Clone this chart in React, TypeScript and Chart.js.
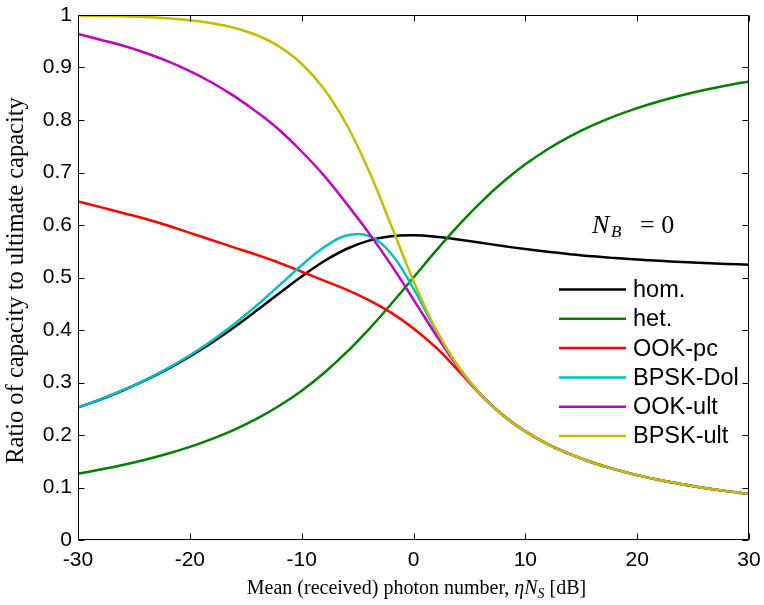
import React, { useEffect, useRef } from "react";
import { Chart, registerables } from "chart.js";

Chart.register(...registerables);

// Mean received photon number eta*N_S in dB
const xDb = [-30, -28, -26, -24, -22, -20, -18, -16, -14, -12, -10, -8, -6, -4, -2, 0, 2, 4, 6, 8, 10, 12, 14, 16, 18, 20, 22, 24, 26, 28, 30];

const hom = [0.2524, 0.2677, 0.2848, 0.304, 0.3255, 0.3496, 0.3764, 0.4058, 0.4374, 0.4701, 0.5021, 0.531, 0.5543, 0.5703, 0.5786, 0.5805, 0.5778, 0.5725, 0.5663, 0.5599, 0.5541, 0.5489, 0.5444, 0.5404, 0.5371, 0.5342, 0.5317, 0.5295, 0.5276, 0.5259, 0.5244];
const het = [0.1264, 0.1342, 0.1429, 0.1529, 0.1643, 0.1774, 0.1926, 0.2103, 0.2311, 0.2556, 0.2844, 0.3182, 0.3572, 0.4012, 0.4495, 0.5, 0.5506, 0.5988, 0.6428, 0.6818, 0.7156, 0.7444, 0.7689, 0.7897, 0.8074, 0.8226, 0.8357, 0.8471, 0.8571, 0.8658, 0.8736];
const ookPc = [0.645, 0.634, 0.623, 0.612, 0.599, 0.585, 0.571, 0.557, 0.543, 0.528, 0.511, 0.494, 0.477, 0.457, 0.433, 0.403, 0.367, 0.323, 0.277, 0.2375, 0.2069, 0.1827, 0.1634, 0.1476, 0.1345, 0.1236, 0.1142, 0.1062, 0.0992, 0.0931, 0.0877];
const bpskDol = [0.2526, 0.268, 0.2853, 0.3047, 0.3268, 0.3518, 0.3801, 0.4119, 0.4471, 0.485, 0.5234, 0.5576, 0.5799, 0.5792, 0.5452, 0.4788, 0.3996, 0.3303, 0.2775, 0.2376, 0.2069, 0.1827, 0.1634, 0.1476, 0.1345, 0.1236, 0.1142, 0.1062, 0.0992, 0.0931, 0.0877];
const ookUlt = [0.964, 0.953, 0.942, 0.928, 0.912, 0.893, 0.871, 0.845, 0.815, 0.781, 0.74, 0.694, 0.641, 0.585, 0.524, 0.458, 0.391, 0.329, 0.2774, 0.2376, 0.2069, 0.1827, 0.1634, 0.1476, 0.1345, 0.1236, 0.1142, 0.1062, 0.0992, 0.0931, 0.0877];
const bpskUlt = [0.999, 0.9985, 0.9975, 0.9961, 0.9937, 0.9901, 0.9843, 0.9753, 0.9614, 0.9398, 0.9072, 0.8592, 0.7919, 0.7036, 0.5995, 0.4934, 0.4013, 0.3304, 0.2775, 0.2376, 0.2069, 0.1827, 0.1634, 0.1476, 0.1345, 0.1236, 0.1142, 0.1062, 0.0992, 0.0931, 0.0877];

const seriesLabels = ["hom.", "het.", "OOK-pc", "BPSK-Dol", "OOK-ult", "BPSK-ult"];

const xTicks = [-30, -20, -10, 0, 10, 20, 30];
const xTickLabels = ["-30", "-20", "-10", "0", "10", "20", "30"];
const yTicks = [0, 0.1, 0.2, 0.3, 0.4, 0.5, 0.6, 0.7, 0.8, 0.9, 1];
const yTickLabels = ["0", "0.1", "0.2", "0.3", "0.4", "0.5", "0.6", "0.7", "0.8", "0.9", "1"];

const yTitle = "Ratio of capacity to ultimate capacity";
const xTitleMain = "Mean (received) photon number, ";

const COLORS = ["#000000", "#008000", "#ff0000", "#00bfbf", "#bf00bf", "#bfbf00"];
const SERIF = '"Liberation Serif", "Times New Roman", serif';
const SANS = '"Liberation Sans", Arial, Helvetica, sans-serif';

export default function App() {
  const ref = useRef<HTMLCanvasElement | null>(null);

  useEffect(() => {
    const canvas = ref.current;
    if (!canvas) return;
    const series = [hom, het, ookPc, bpskDol, ookUlt, bpskUlt];

    const datasets = series.map((ys, i) => ({
      label: seriesLabels[i],
      data: xDb.map((x, j) => ({ x, y: ys[j] })),
      borderColor: COLORS[i],
      backgroundColor: COLORS[i],
      borderWidth: 2.5,
      pointRadius: 0,
      tension: 0.4,
      fill: false,
      order: series.length - i,
    }));

    const zeroPad = (s: any) => {
      s.paddingLeft = 0;
      s.paddingRight = 0;
      s.paddingTop = 0;
      s.paddingBottom = 0;
    };

    const decor = {
      id: "decor",
      afterDatasetsDraw(chart: any) {
        const { ctx, chartArea: a, scales } = chart;
        const xs = scales.x;
        const ys = scales.y;
        ctx.save();
        ctx.strokeStyle = "#000";
        ctx.lineWidth = 1;
        const L = Math.round(a.left) + 0.5;
        const R = Math.round(a.right) - 0.5;
        const T = Math.round(a.top) + 0.5;
        const B = Math.round(a.bottom) - 0.5;
        ctx.beginPath();
        ctx.rect(L, T, R - L, B - T);
        ctx.stroke();
        const tl = 6;
        ctx.beginPath();
        xTicks.forEach((v) => {
          const px = Math.round(xs.getPixelForValue(v)) + 0.5;
          ctx.moveTo(px, B);
          ctx.lineTo(px, B - tl);
          ctx.moveTo(px, T);
          ctx.lineTo(px, T + tl);
        });
        yTicks.forEach((v) => {
          const py = Math.round(ys.getPixelForValue(v)) + 0.5;
          ctx.moveTo(L, py);
          ctx.lineTo(L + tl, py);
          ctx.moveTo(R, py);
          ctx.lineTo(R - tl, py);
        });
        ctx.stroke();
        ctx.restore();
      },
      afterDraw(chart: any) {
        const { ctx, chartArea: a } = chart;
        ctx.save();
        ctx.fillStyle = "#000";

        // Legend (inside the axes)
        const lx0 = 559;
        const lx1 = 626;
        const rowY0 = 289.5;
        const rowDy = 29.3;
        ctx.font = `23.5px ${SANS}`;
        ctx.textBaseline = "middle";
        ctx.textAlign = "left";
        chart.data.datasets.forEach((d: any, i: number) => {
          const y = rowY0 + i * rowDy;
          ctx.strokeStyle = d.borderColor;
          ctx.lineWidth = 2.5;
          ctx.beginPath();
          ctx.moveTo(lx0, y);
          ctx.lineTo(lx1, y);
          ctx.stroke();
          ctx.fillText(d.label, 633, y + 1);
        });

        // N_B = 0 annotation
        ctx.textBaseline = "alphabetic";
        ctx.font = `italic 26px ${SERIF}`;
        ctx.fillText("N", 592, 232.5);
        ctx.font = `italic 17px ${SERIF}`;
        ctx.fillText("B", 611, 237);
        ctx.font = `26px ${SERIF}`;
        ctx.fillText("= 0", 640, 232.5);

        // x-axis title with math parts
        const size = 20;
        const parts = [
          { t: xTitleMain, f: `${size}px ${SERIF}`, dy: 0 },
          { t: "\u03b7", f: `italic ${size}px ${SERIF}`, dy: 0 },
          { t: "N", f: `italic ${size}px ${SERIF}`, dy: 0 },
          { t: "S", f: `italic ${Math.round(size * 0.72)}px ${SERIF}`, dy: 3.5 },
          { t: " [dB]", f: `${size}px ${SERIF}`, dy: 0 },
        ];
        let total = 0;
        parts.forEach((p) => {
          ctx.font = p.f;
          total += ctx.measureText(p.t).width;
        });
        let x = (a.left + a.right) / 2 - total / 2 + 3;
        const base = 594;
        parts.forEach((p) => {
          ctx.font = p.f;
          ctx.fillText(p.t, x, base + p.dy);
          x += ctx.measureText(p.t).width;
        });

        // y-axis title
        ctx.save();
        ctx.translate(17, (a.top + a.bottom) / 2 + 3);
        ctx.rotate(-Math.PI / 2);
        ctx.font = `24.5px ${SERIF}`;
        ctx.textAlign = "center";
        ctx.textBaseline = "middle";
        ctx.fillText(yTitle, 0, 0);
        ctx.restore();

        ctx.restore();
      },
    };

    const chart = new Chart(canvas, {
      type: "line",
      data: { datasets: datasets as any },
      options: {
        responsive: false,
        animation: false,
        events: [],
        layout: { padding: { top: 15, right: 15, bottom: 0, left: 0 } },
        plugins: {
          legend: { display: false },
          tooltip: { enabled: false },
          title: { display: false },
        },
        scales: {
          x: {
            type: "linear",
            min: -30,
            max: 30,
            grid: { display: false, drawTicks: false },
            border: { display: false },
            afterBuildTicks: (s: any) => {
              s.ticks = xTicks.map((v) => ({ value: v }));
            },
            afterFit: (s: any) => {
              s.height = 65;
              zeroPad(s);
            },
            ticks: {
              autoSkip: false,
              maxRotation: 0,
              padding: 8,
              color: "#000",
              font: { family: SANS, size: 21 },
              callback: (_v: any, i: number) => xTickLabels[i],
            },
          },
          y: {
            type: "linear",
            min: 0,
            max: 1,
            grid: { display: false, drawTicks: false },
            border: { display: false },
            afterBuildTicks: (s: any) => {
              s.ticks = yTicks.map((v) => ({ value: v }));
            },
            afterFit: (s: any) => {
              s.width = 78;
              zeroPad(s);
            },
            ticks: {
              autoSkip: false,
              padding: 6,
              color: "#000",
              font: { family: SANS, size: 21 },
              callback: (_v: any, i: number) => yTickLabels[i],
            },
          },
        },
      },
      plugins: [decor],
    });

    return () => chart.destroy();
  }, []);

  return (
    <div style={{ position: "absolute", left: 0, top: 0, width: 764, height: 605, background: "#fff" }}>
      <canvas ref={ref} width={764} height={605} style={{ width: 764, height: 605 }} />
    </div>
  );
}
